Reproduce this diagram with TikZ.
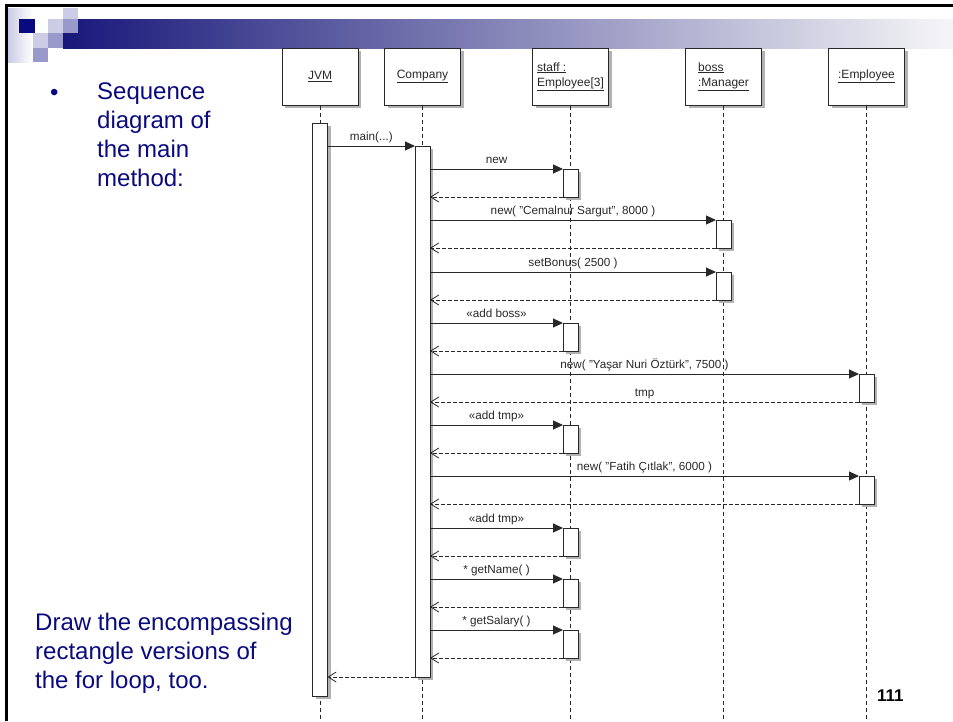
\documentclass[tikz,border=0pt]{standalone}
\usepackage{fontspec}
\setmainfont{Liberation Sans}
\usepackage{tikz}
\usetikzlibrary{arrows.meta,shadows}

\definecolor{slideNavy}{RGB}{10,10,128}
\definecolor{barDark}{RGB}{24,24,122}
\definecolor{barMid}{RGB}{168,168,194}
\definecolor{barEnd}{RGB}{246,246,248}
\definecolor{lavLight}{RGB}{204,204,230}
\definecolor{lavMid}{RGB}{153,153,204}
\definecolor{umlGray}{RGB}{40,40,40}

\tikzstyle{objBox} = [rectangle, draw=umlGray, fill=white, line width=1pt, minimum width=76pt, minimum height=57pt, inner sep=0pt, font=\fontsize{12}{15}\selectfont, text=umlGray, align=left, drop shadow={shadow xshift=3pt, shadow yshift=-3pt, fill=black!30, opacity=1}]
\tikzstyle{actBar} = [rectangle, draw=umlGray, fill=white, line width=1pt, minimum width=15pt, inner sep=0pt, outer sep=0pt, anchor=north, drop shadow={shadow xshift=3pt, shadow yshift=-3pt, fill=black!30, opacity=1}]
\tikzstyle{lifeLine} = [draw=umlGray, line width=0.8pt, dash pattern=on 4pt off 3pt]
\tikzstyle{callLine} = [draw=umlGray, line width=1pt, -{Triangle[length=10pt,width=9pt]}]
\tikzstyle{retLine} = [draw=umlGray, line width=0.8pt, dash pattern=on 4pt off 2pt, -{Straight Barb[length=8pt,width=10pt]}]
\tikzstyle{msgLbl} = [font=\fontsize{11.7}{13}\selectfont, text=umlGray, inner sep=0pt, anchor=base, yshift=6pt]
\tikzstyle{slideTxt} = [font=\fontsize{24}{29}\selectfont, text=slideNavy, align=left, inner sep=0pt, anchor=north west]

\begin{document}
\begin{tikzpicture}[x=1pt, y=-1pt]
  \useasboundingbox (0,0) rectangle (953,721);

  % slide frame and title bar
  \draw[line width=3pt] (953,5.5) -- (6.5,5.5) -- (6.5,721);
  \shade[left color=barDark, middle color=barMid, right color=barEnd] (63,19) rectangle (953,48);
  \shade[left color=lavLight, right color=white] (8,8) rectangle (33,62);
  \fill[slideNavy] (19,19) rectangle (35,33);
  \fill[lavLight] (63,8) rectangle (78,19);
  \fill[lavLight] (48,19) rectangle (63,33);
  \fill[lavMid] (63,19) rectangle (78,33);
  \fill[lavLight] (33,33) rectangle (48,48);
  \fill[lavMid] (48,33) rectangle (63,48);
  \fill[lavMid] (33,48) rectangle (48,62);

  % slide text
  \node[font=\fontsize{24}{29}\selectfont, text=slideNavy, anchor=base west, inner sep=0pt] (bullet) at (50,100) {•};
  \node[slideTxt] (intro) at (97,83) {Sequence\\diagram of\\the main\\method:};
  \node[slideTxt] (task) at (35,613) {Draw the encompassing\\rectangle versions of\\the for loop, too.};
  \node[font=\bfseries\fontsize{17}{20}\selectfont, anchor=base west, inner sep=0pt] (pageNo) at (877,701) {111};

  % objects
  \node[objBox] (jvm) at (320,76.5) {\underline{JVM}};
  \node[objBox] (company) at (422.5,76.5) {\underline{Company}};
  \node[objBox] (staff) at (570.5,76.5) {\underline{staff :}\\\underline{Employee[3]}};
  \node[objBox] (boss) at (723.5,76.5) {\underline{boss}\\\underline{:Manager}};
  \node[objBox] (emp) at (866.5,76.5) {\underline{:Employee}};

  % lifelines
  \coordinate (bottomEdge) at (0,721);
  \draw[lifeLine] (jvm.south) -- (jvm.south |- bottomEdge);
  \draw[lifeLine] (company.south) -- (company.south |- bottomEdge);
  \draw[lifeLine] (staff.south) -- (staff.south |- bottomEdge);
  \draw[lifeLine] (boss.south) -- (boss.south |- bottomEdge);
  \draw[lifeLine] (emp.south) -- (emp.south |- bottomEdge);

  % activations
  \node[actBar, minimum height=573pt] (jvmA) at (320,123) {};
  \node[actBar, minimum height=531pt] (compA) at (422.5,146) {};
  \node[actBar, minimum height=28pt] (staffA) at (570.5,169) {};
  \node[actBar, minimum height=28pt] (bossA) at (723.5,220) {};
  \node[actBar, minimum height=28pt] (bossB) at (723.5,272) {};
  \node[actBar, minimum height=28pt] (staffB) at (570.5,323) {};
  \node[actBar, minimum height=28pt] (empA) at (866.5,374) {};
  \node[actBar, minimum height=28pt] (staffC) at (570.5,425) {};
  \node[actBar, minimum height=28pt] (empB) at (866.5,476) {};
  \node[actBar, minimum height=28pt] (staffD) at (570.5,528) {};
  \node[actBar, minimum height=28pt] (staffE) at (570.5,579) {};
  \node[actBar, minimum height=28pt] (staffF) at (570.5,630) {};

  % messages
  \draw[callLine] (jvmA.east |- compA.north) -- node[midway,msgLbl] {main(...)} (compA.north west);
  \draw[callLine] (compA.east |- staffA.north) -- node[midway,msgLbl] {new} (staffA.north west);
  \draw[retLine] (staffA.south west) -- (compA.east |- staffA.south);
  \draw[callLine] (compA.east |- bossA.north) -- node[midway,msgLbl] {new( "Cemalnur Sargut", 8000 )} (bossA.north west);
  \draw[retLine] (bossA.south west) -- (compA.east |- bossA.south);
  \draw[callLine] (compA.east |- bossB.north) -- node[midway,msgLbl] {setBonus( 2500 )} (bossB.north west);
  \draw[retLine] (bossB.south west) -- (compA.east |- bossB.south);
  \draw[callLine] (compA.east |- staffB.north) -- node[midway,msgLbl] {«add boss»} (staffB.north west);
  \draw[retLine] (staffB.south west) -- (compA.east |- staffB.south);
  \draw[callLine] (compA.east |- empA.north) -- node[midway,msgLbl] {new( "Yaşar Nuri Öztürk", 7500 )} (empA.north west);
  \draw[retLine] (empA.south west) -- node[midway,msgLbl] {tmp} (compA.east |- empA.south);
  \draw[callLine] (compA.east |- staffC.north) -- node[midway,msgLbl] {«add tmp»} (staffC.north west);
  \draw[retLine] (staffC.south west) -- (compA.east |- staffC.south);
  \draw[callLine] (compA.east |- empB.north) -- node[midway,msgLbl] {new( "Fatih Çıtlak", 6000 )} (empB.north west);
  \draw[retLine] (empB.south west) -- (compA.east |- empB.south);
  \draw[callLine] (compA.east |- staffD.north) -- node[midway,msgLbl] {«add tmp»} (staffD.north west);
  \draw[retLine] (staffD.south west) -- (compA.east |- staffD.south);
  \draw[callLine] (compA.east |- staffE.north) -- node[midway,msgLbl] {* getName( )} (staffE.north west);
  \draw[retLine] (staffE.south west) -- (compA.east |- staffE.south);
  \draw[callLine] (compA.east |- staffF.north) -- node[midway,msgLbl] {* getSalary( )} (staffF.north west);
  \draw[retLine] (staffF.south west) -- (compA.east |- staffF.south);
  \draw[retLine] (compA.south west) -- (jvmA.east |- compA.south);
\end{tikzpicture}
\end{document}
